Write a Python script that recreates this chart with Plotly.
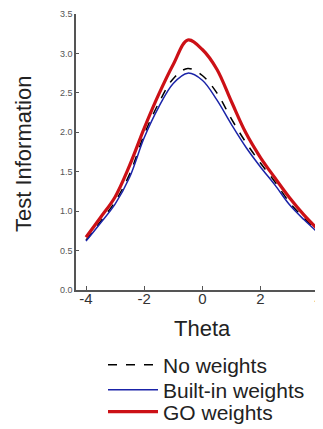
import plotly.graph_objects as go

theta = [-4, -3.5, -3, -2.5, -2, -1.5, -1, -0.5, 0, 0.5, 1, 1.5, 2, 2.5, 3, 3.5, 4]
no_weights = [0.63, 0.87, 1.12, 1.47, 1.97, 2.37, 2.68, 2.81, 2.72, 2.50, 2.17, 1.87, 1.61, 1.37, 1.11, 0.91, 0.73]
builtin_weights = [0.62, 0.85, 1.09, 1.43, 1.93, 2.32, 2.62, 2.75, 2.66, 2.41, 2.10, 1.81, 1.56, 1.33, 1.08, 0.89, 0.72]
go_weights = [0.67, 0.92, 1.18, 1.58, 2.05, 2.48, 2.86, 3.17, 3.05, 2.80, 2.39, 1.99, 1.68, 1.42, 1.17, 0.95, 0.76]

y_ticks = [0.0, 0.5, 1.0, 1.5, 2.0, 2.5, 3.0, 3.5]
x_ticks = [-4, -2, 0, 2, 4]

fig = go.Figure()
fig.add_trace(go.Scatter(x=theta, y=no_weights, mode="lines", name="No weights", legend="legend",
                         line=dict(color="black", width=1.5, dash="dash", shape="spline")))
fig.add_trace(go.Scatter(x=theta, y=builtin_weights, mode="lines", name="Built-in weights", legend="legend2",
                         line=dict(color="#1a23a8", width=1.5, shape="spline")))
fig.add_trace(go.Scatter(x=theta, y=go_weights, mode="lines", name="GO weights", legend="legend3",
                         line=dict(color="#cc1016", width=3.2, shape="spline")))

W, H = 323, 421
leg_common = dict(x=95 / W, xref="container", yref="container", xanchor="left", yanchor="middle",
                  itemwidth=50, font=dict(size=21, color="#222"), bgcolor="rgba(0,0,0,0)")

fig.update_layout(
    width=W, height=H,
    margin=dict(l=68, r=8, t=6, b=139, autoexpand=False),
    paper_bgcolor="white", plot_bgcolor="white",
    font=dict(family="Liberation Sans, Arial, sans-serif", color="#222"),
    showlegend=True,
    legend=dict(y=1 - 357 / H, **leg_common),
    legend2=dict(y=1 - 382 / H, **leg_common),
    legend3=dict(y=1 - 404 / H, **leg_common),
    xaxis=dict(range=[-4.344, 4.15], tickvals=x_ticks, ticktext=[str(v) for v in x_ticks],
               showgrid=False, zeroline=False, showline=True, linecolor="#555", linewidth=1.5,
               ticks="inside", ticklen=4, tickcolor="#555", automargin=False,
               ticklabelstandoff=-6, ticklabeloverflow="allow",
               tickfont=dict(size=15, color="#333")),
    yaxis=dict(range=[0, 3.5], tickvals=y_ticks, ticktext=[f"{v:.1f}" for v in y_ticks],
               showgrid=False, zeroline=False, showline=True, linecolor="#555", linewidth=1.5,
               ticks="inside", ticklen=3, tickcolor="#555", automargin=False,
               tickfont=dict(size=9, color="#555")),
    annotations=[
        dict(text="Theta", xref="x", yref="paper", x=0, y=-0.141, xanchor="center", yanchor="middle",
             showarrow=False, font=dict(size=22, color="#222")),
        dict(text="Test Information", xref="paper", yref="paper", x=-0.21, y=0.493, xanchor="center",
             yanchor="middle", textangle=-90, showarrow=False, font=dict(size=22, color="#222")),
    ],
)

fig.write_html("out.html")
